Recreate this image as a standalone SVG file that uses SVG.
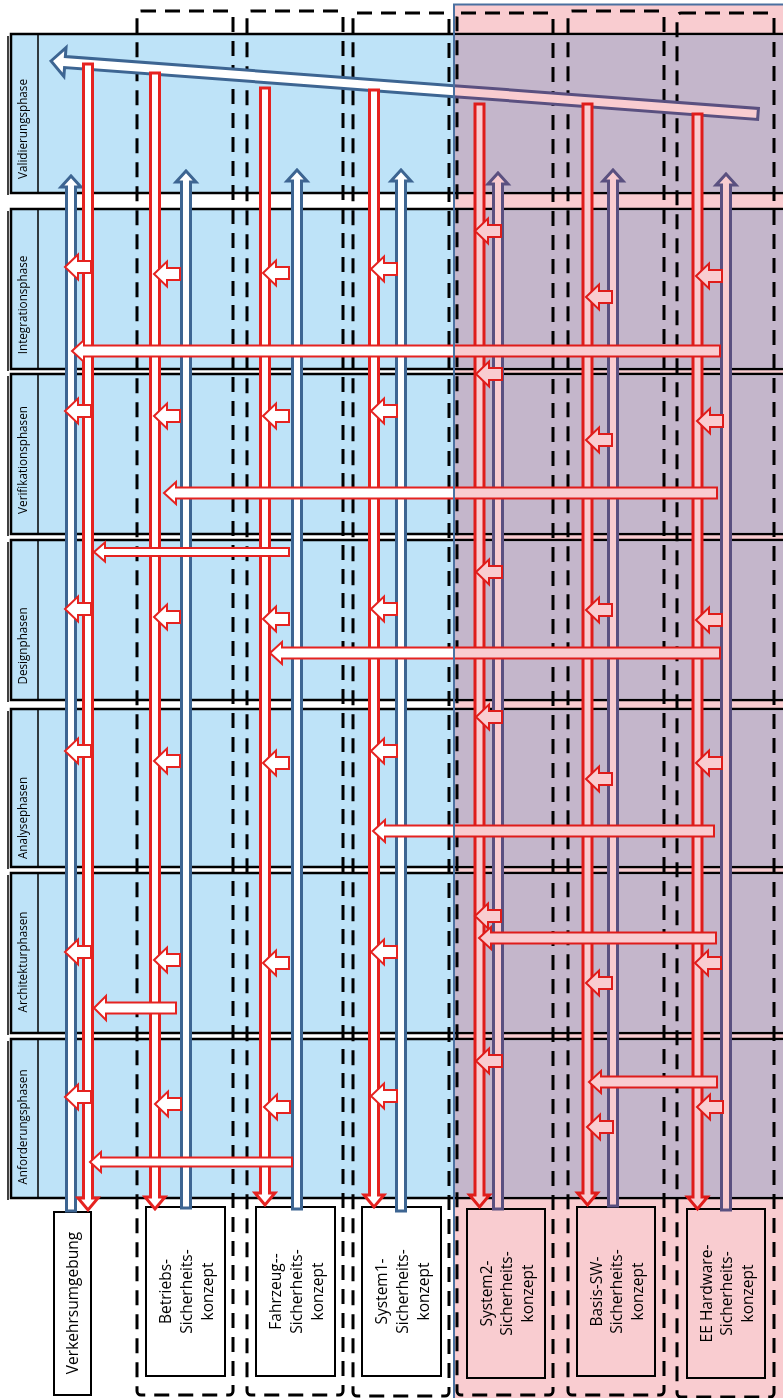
<svg xmlns="http://www.w3.org/2000/svg" xmlns:xlink="http://www.w3.org/1999/xlink" width="783" height="1398" viewBox="0 0 783 1398">
<style>
.band{fill:#BEE3F8;stroke:#000;stroke-width:2.5}
.bandr{fill:#C9E4F9}
.div{stroke:#000;stroke-width:1.5}
.lbl{font-family:"Open Sans","Liberation Sans",sans-serif;font-size:11.7px;fill:#000;text-anchor:middle}
.ct{font-family:"Open Sans","Liberation Sans",sans-serif;font-size:15.5px;fill:#000;text-anchor:middle}
.dash{fill:none;stroke:#000;stroke-width:3;stroke-dasharray:15 9}
.box{fill:#fff;stroke:#000;stroke-width:2}
.ra{fill:#fff;stroke:#E52320;stroke-width:3}
.ba{fill:#fff;stroke:#3D6592;stroke-width:3}
.ba2{fill:#fff;stroke:#5C649D;stroke-width:3}
.la{fill:#fff;stroke:#E52320;stroke-width:2}
.va{fill:#fff;stroke:#3D6592;stroke-width:3}
.va2{fill:#fff;stroke:#5C649D;stroke-width:3}
.hl{stroke:#000;stroke-width:2.5}
</style>
<defs>
<path id="sa" d="M0,0 L13,-12.5 V-6 H26 V6 H13 V12.5 Z" class="la"/>
<path id="varrow" transform="translate(51,61) rotate(4.28)" d="M0,0 L14,-14.5 V-5.5 H709 V5.5 H14 V14.5 Z"/>
<clipPath id="cl"><rect x="0" y="0" width="454" height="200"/></clipPath>
<clipPath id="cr"><rect x="454" y="0" width="340" height="200"/></clipPath>
</defs>
<rect x="0" y="0" width="783" height="1398" fill="#fff"/>

<g id="phases">
<g id="phase-validierung">
<line x1="8" y1="36" x2="8" y2="195" class="div" stroke-width="2"/>
<rect x="11" y="34" width="790" height="159" class="band"/>
<rect x="455" y="35.3" width="340" height="156.4" class="bandr"/>
<line x1="38" y1="34" x2="38" y2="193" class="div"/>
<text class="lbl" transform="translate(27,129) rotate(-90)">Validierungsphase</text>
</g>
<g id="phase-integration">
<line x1="8" y1="211" x2="8" y2="371" class="div" stroke-width="2"/>
<rect x="11" y="209" width="790" height="160" class="band"/>
<rect x="455" y="210.3" width="340" height="157.4" class="bandr"/>
<line x1="38" y1="209" x2="38" y2="369" class="div"/>
<text class="lbl" transform="translate(27,305) rotate(-90)">Integrationsphase</text>
</g>
<g id="phase-verifikation">
<line x1="8" y1="376" x2="8" y2="536" class="div" stroke-width="2"/>
<rect x="11" y="374" width="790" height="160" class="band"/>
<rect x="455" y="375.3" width="340" height="157.4" class="bandr"/>
<line x1="38" y1="374" x2="38" y2="534" class="div"/>
<text class="lbl" transform="translate(27,460) rotate(-90)">Verifikationsphasen</text>
</g>
<g id="phase-design">
<line x1="8" y1="542" x2="8" y2="702" class="div" stroke-width="2"/>
<rect x="11" y="540" width="790" height="160" class="band"/>
<rect x="455" y="541.3" width="340" height="157.4" class="bandr"/>
<line x1="38" y1="540" x2="38" y2="700" class="div"/>
<text class="lbl" transform="translate(27,646) rotate(-90)">Designphasen</text>
</g>
<g id="phase-analyse">
<line x1="8" y1="711" x2="8" y2="869" class="div" stroke-width="2"/>
<rect x="11" y="709" width="790" height="158" class="band"/>
<rect x="455" y="710.3" width="340" height="155.4" class="bandr"/>
<line x1="38" y1="709" x2="38" y2="867" class="div"/>
<text class="lbl" transform="translate(27,818) rotate(-90)">Analysephasen</text>
</g>
<g id="phase-architektur">
<line x1="8" y1="875" x2="8" y2="1035" class="div" stroke-width="2"/>
<rect x="11" y="873" width="790" height="160" class="band"/>
<rect x="455" y="874.3" width="340" height="157.4" class="bandr"/>
<line x1="38" y1="873" x2="38" y2="1033" class="div"/>
<text class="lbl" transform="translate(27,962) rotate(-90)">Architekturphasen</text>
</g>
<g id="phase-anforderung">
<line x1="8" y1="1041" x2="8" y2="1200" class="div" stroke-width="2"/>
<rect x="11" y="1039" width="790" height="159" class="band"/>
<rect x="455" y="1040.3" width="340" height="156.4" class="bandr"/>
<line x1="38" y1="1039" x2="38" y2="1198" class="div"/>
<text class="lbl" transform="translate(27,1127) rotate(-90)">Anforderungsphasen</text>
</g>
</g>

<g id="verkehrsumgebung">
<rect x="54" y="1212" width="37" height="183" class="box"/>
<text class="ct" transform="translate(77.5,1303) rotate(-90)">Verkehrsumgebung</text>
</g>
<g id="betriebs">
<rect x="137" y="11" width="96" height="1384" rx="4" class="dash"/>
<rect x="146" y="1207" width="79" height="169" class="box"/>
<text class="ct" transform="translate(185.5,1291.5) rotate(-90)"><tspan x="0" y="-14.5">Betriebs-</tspan><tspan x="0" y="6.3">Sicherheits-</tspan><tspan x="0" y="27">konzept</tspan></text>
</g>
<g id="fahrzeug">
<rect x="247" y="11" width="96" height="1384" rx="4" class="dash"/>
<rect x="256" y="1207" width="79" height="169" class="box"/>
<text class="ct" transform="translate(295.5,1291.5) rotate(-90)"><tspan x="0" y="-14.5">Fahrzeug--</tspan><tspan x="0" y="6.3">Sicherheits-</tspan><tspan x="0" y="27">konzept</tspan></text>
</g>
<g id="system1">
<rect x="353" y="13" width="96" height="1383" rx="4" class="dash"/>
<rect x="362" y="1207" width="79" height="169" class="box"/>
<text class="ct" transform="translate(401.5,1291.5) rotate(-90)"><tspan x="0" y="-14.5">System1-</tspan><tspan x="0" y="6.3">Sicherheits-</tspan><tspan x="0" y="27">konzept</tspan></text>
</g>
<g id="system2">
<rect x="457" y="13" width="96" height="1382" rx="4" class="dash"/>
<rect x="467" y="1209" width="78" height="169" class="box"/>
<text class="ct" transform="translate(506,1293.5) rotate(-90)"><tspan x="0" y="-14.5">System2-</tspan><tspan x="0" y="6.3">Sicherheits-</tspan><tspan x="0" y="27">konzept</tspan></text>
</g>
<g id="basis-sw">
<rect x="568" y="11" width="96" height="1384" rx="4" class="dash"/>
<rect x="577" y="1207" width="78" height="169" class="box"/>
<text class="ct" transform="translate(616,1291.5) rotate(-90)"><tspan x="0" y="-14.5">Basis-SW-</tspan><tspan x="0" y="6.3">Sicherheits-</tspan><tspan x="0" y="27">konzept</tspan></text>
</g>
<g id="ee-hardware">
<rect x="677" y="13" width="97" height="1384" rx="4" class="dash"/>
<rect x="687" y="1209" width="78" height="169" class="box"/>
<text class="ct" transform="translate(726,1293.5) rotate(-90)"><tspan x="0" y="-14.5">EE Hardware-</tspan><tspan x="0" y="6.3">Sicherheits-</tspan><tspan x="0" y="27">konzept</tspan></text>
</g>

<g id="connectors">
<g clip-path="url(#cl)"><use xlink:href="#varrow" class="va"/></g>
<g clip-path="url(#cr)"><use xlink:href="#varrow" class="va2"/></g>

<path class="ba" d="M66.5,1211 V187 H61 L71,176 L81,187 H75.5 V1211 Z"/>
<path class="ba" d="M181.5,1208 V182 H176 L186,171 L196,182 H190.5 V1208 Z"/>
<path class="ba" d="M292.5,1209 V181 H287 L297,170 L307,181 H301.5 V1209 Z"/>
<path class="ba" d="M396.5,1211 V181 H391 L401,170 L411,181 H405.5 V1211 Z"/>
<path class="ba2" d="M493.5,1209 V184 H488 L498,173 L508,184 H502.5 V1209 Z"/>
<path class="ba2" d="M608.5,1206 V181 H603 L613,170 L623,181 H617.5 V1206 Z"/>
<path class="ba2" d="M721.5,1210 V185 H716 L726,174 L736,185 H730.5 V1210 Z"/>

<path class="ra" d="M83.5,64 H92.5 V1198 H98 L88,1210 L78,1198 H83.5 Z"/>
<path class="ra" d="M150.5,73 H159.5 V1197 H165 L155,1209 L145,1197 H150.5 Z"/>
<path class="ra" d="M260.5,88 H269.5 V1193 H275 L265,1205 L255,1193 H260.5 Z"/>
<path class="ra" d="M369.5,90 H378.5 V1195 H384 L374,1207 L364,1195 H369.5 Z"/>
<path class="ra" d="M475,104 H484 V1195 H489.5 L479.5,1207 L469.5,1195 H475 Z"/>
<path class="ra" d="M583,104 H592 V1193 H597.5 L587.5,1205 L577.5,1193 H583 Z"/>
<path class="ra" d="M693,114 H702 V1197 H707.5 L697.5,1209 L687.5,1197 H693 Z"/>

<use xlink:href="#sa" x="65" y="267"/>
<use xlink:href="#sa" x="65" y="411"/>
<use xlink:href="#sa" x="65" y="609"/>
<use xlink:href="#sa" x="65" y="751"/>
<use xlink:href="#sa" x="65" y="952"/>
<use xlink:href="#sa" x="65" y="1097"/>

<use xlink:href="#sa" x="154" y="274"/>
<use xlink:href="#sa" x="154" y="416"/>
<use xlink:href="#sa" x="154" y="617"/>
<use xlink:href="#sa" x="154" y="761"/>
<use xlink:href="#sa" x="154" y="960"/>
<use xlink:href="#sa" x="155" y="1104"/>

<use xlink:href="#sa" x="263" y="273"/>
<use xlink:href="#sa" x="263" y="416"/>
<use xlink:href="#sa" x="263" y="619"/>
<use xlink:href="#sa" x="263" y="763"/>
<use xlink:href="#sa" x="263" y="963"/>
<use xlink:href="#sa" x="264" y="1107"/>

<use xlink:href="#sa" x="371" y="269"/>
<use xlink:href="#sa" x="371" y="411"/>
<use xlink:href="#sa" x="371" y="609"/>
<use xlink:href="#sa" x="371" y="751"/>
<use xlink:href="#sa" x="371" y="952"/>
<use xlink:href="#sa" x="371" y="1096"/>

<use xlink:href="#sa" x="475" y="231"/>
<use xlink:href="#sa" x="476" y="374"/>
<use xlink:href="#sa" x="476" y="572"/>
<use xlink:href="#sa" x="476" y="717"/>
<use xlink:href="#sa" x="475" y="916"/>
<use xlink:href="#sa" x="476" y="1061"/>

<use xlink:href="#sa" x="586" y="297"/>
<use xlink:href="#sa" x="586" y="440"/>
<use xlink:href="#sa" x="586" y="610"/>
<use xlink:href="#sa" x="586" y="779"/>
<use xlink:href="#sa" x="586" y="983"/>
<use xlink:href="#sa" x="587" y="1127"/>

<use xlink:href="#sa" x="696" y="276"/>
<use xlink:href="#sa" x="697" y="421"/>
<use xlink:href="#sa" x="696" y="620"/>
<use xlink:href="#sa" x="696" y="763"/>
<use xlink:href="#sa" x="695" y="963"/>
<use xlink:href="#sa" x="697" y="1107"/>

<path class="la" d="M72,351 L84,340 V345.5 H720 V356.5 H84 V362 Z"/>
<path class="la" d="M164,493 L176,482 V487.5 H717 V498.5 H176 V504 Z"/>
<path class="la" d="M94,552 L105,542.5 V548 H289 V556 H105 V561.5 Z"/>
<path class="la" d="M270,653 L282,642 V647.5 H720 V658.5 H282 V664 Z"/>
<path class="la" d="M373,831 L385,820 V825.5 H714 V836.5 H385 V842 Z"/>
<path class="la" d="M479,938 L491,927 V932.5 H716 V943.5 H491 V949 Z"/>
<path class="la" d="M94,1008 L106,996 V1002.5 H176 V1013.5 H106 V1020 Z"/>
<path class="la" d="M589,1082 L601,1071 V1076.5 H717 V1087.5 H601 V1093 Z"/>
<path class="la" d="M90,1162 L101,1152 V1157.5 H292 V1166.5 H101 V1172 Z"/>
</g>

<g id="hardware-area">
<rect x="454" y="4.5" width="340" height="1400" fill="#F9CCD0" style="mix-blend-mode:multiply"/>
<rect x="454" y="4.5" width="340" height="1400" fill="none" stroke="#4A70A0" stroke-width="2"/>
</g>
</svg>
